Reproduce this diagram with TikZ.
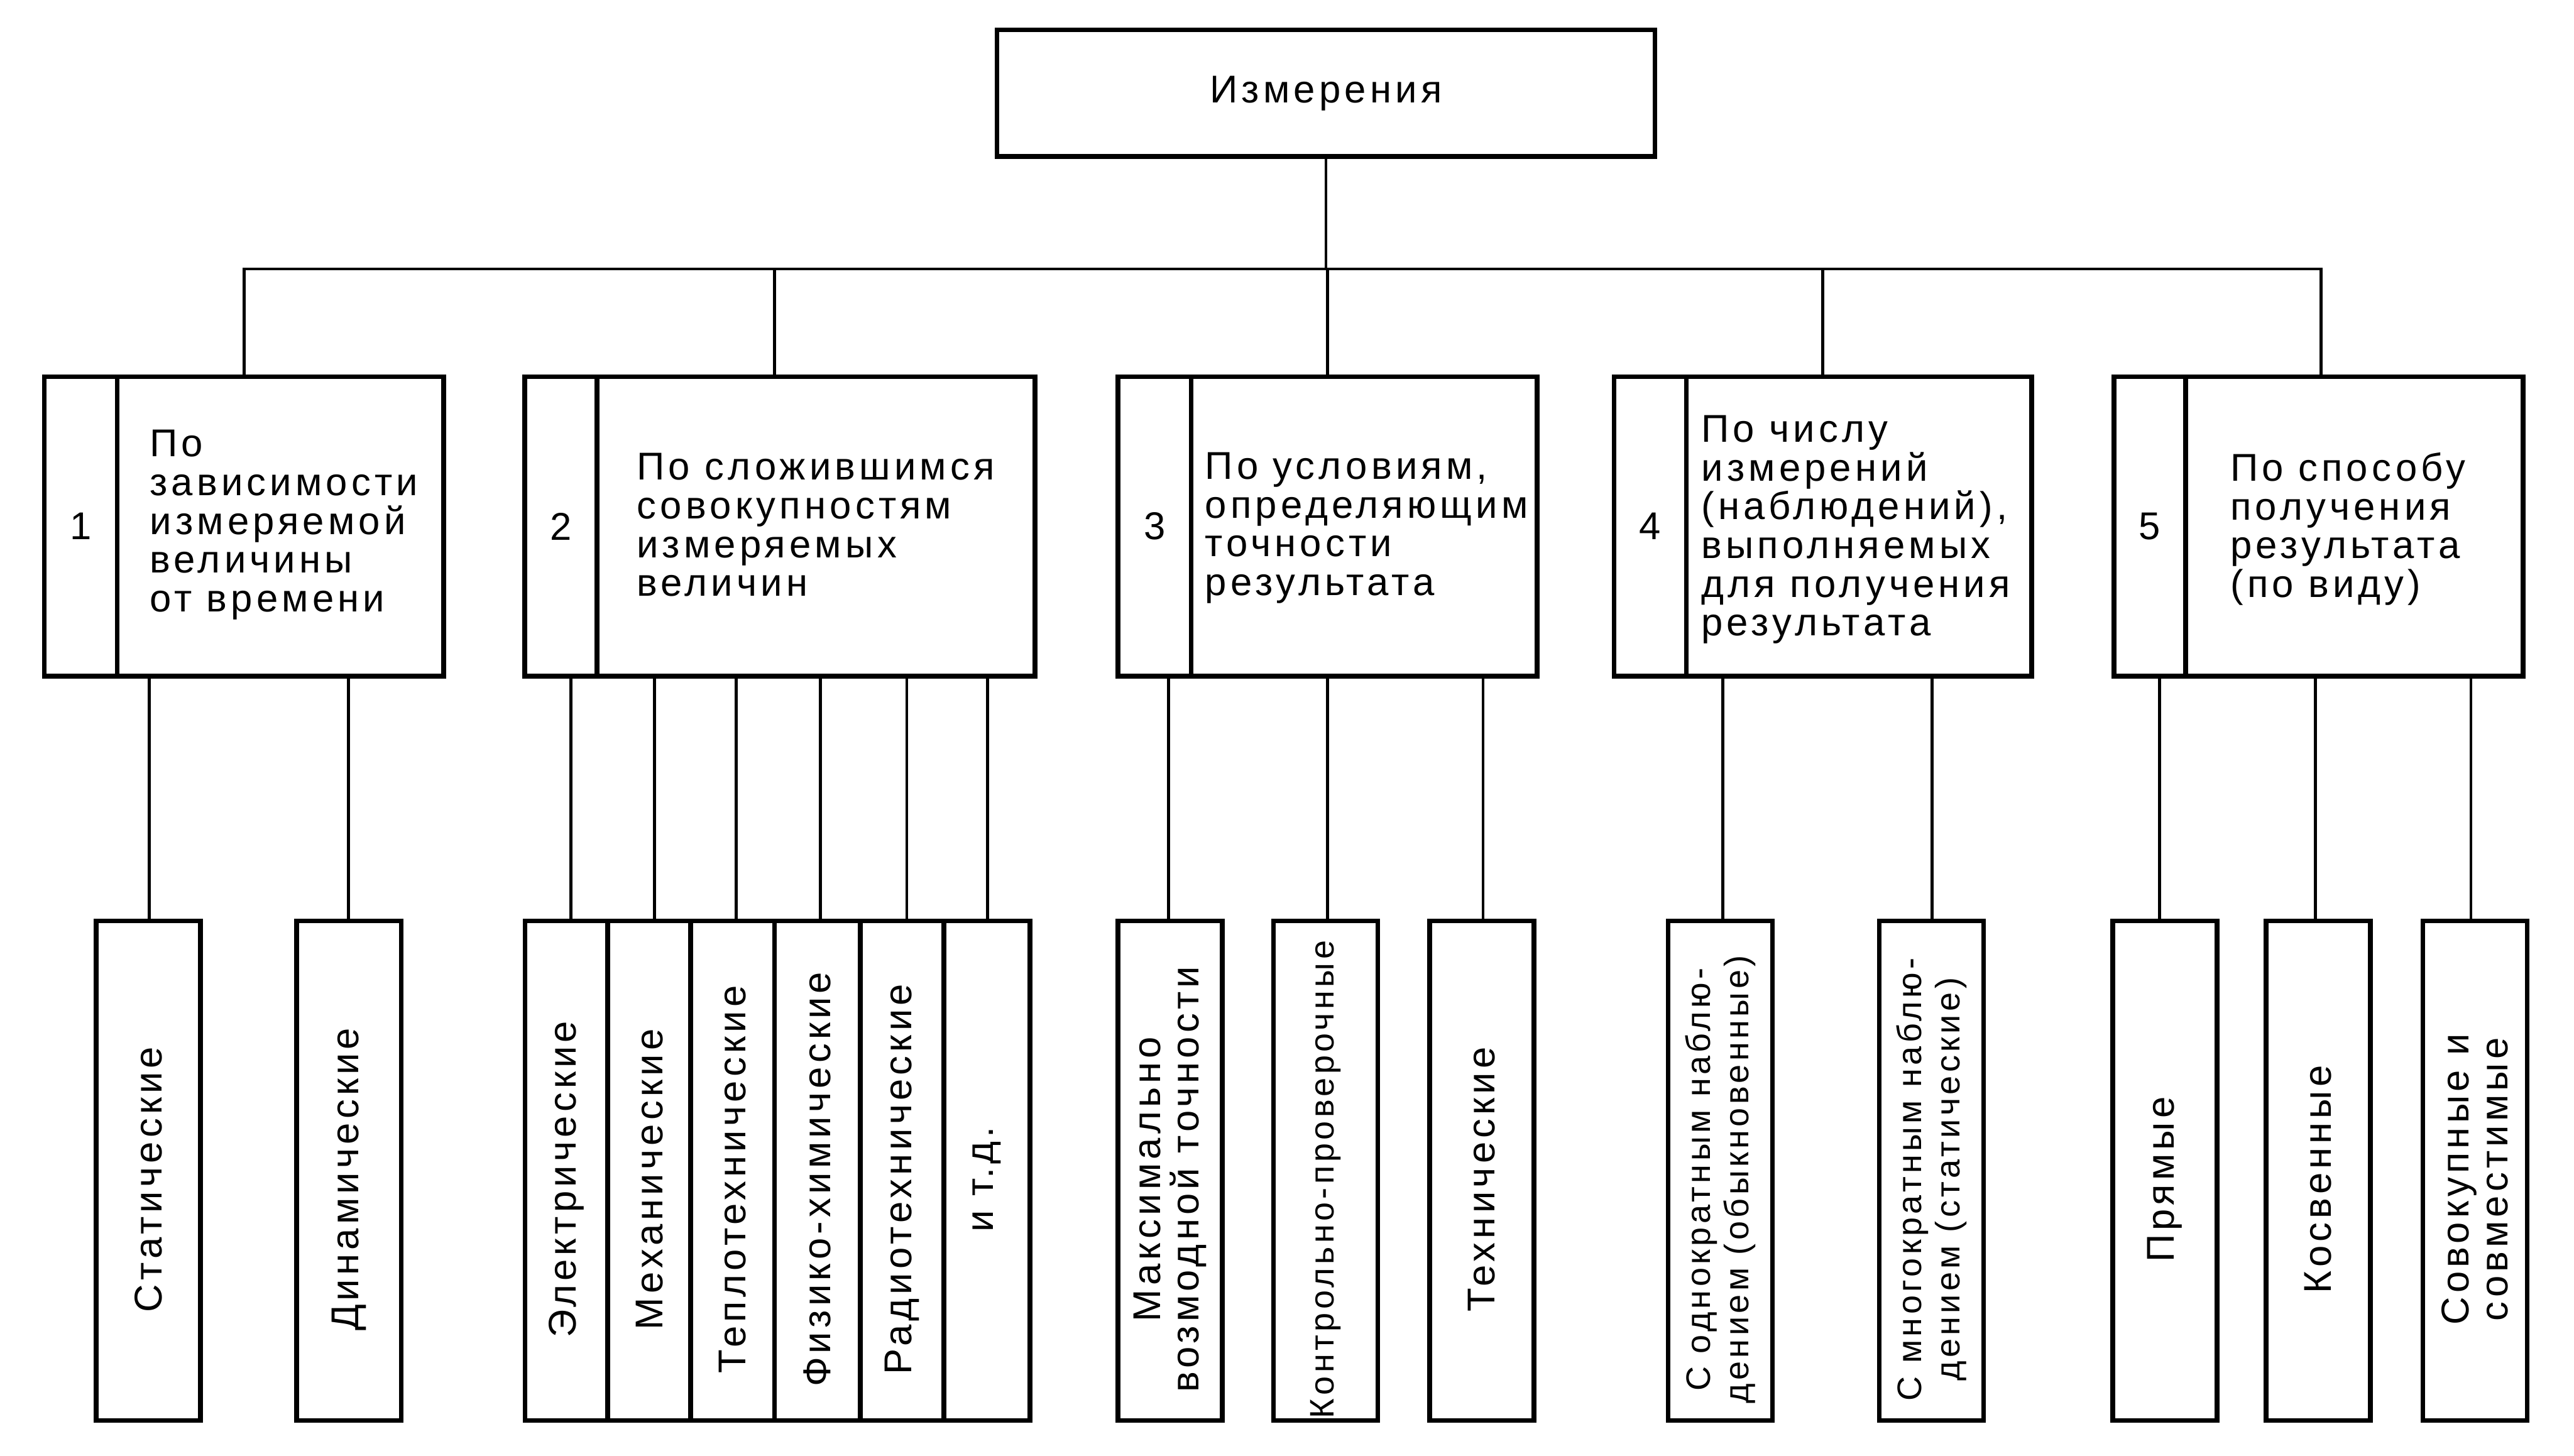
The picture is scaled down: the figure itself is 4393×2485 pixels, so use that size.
\documentclass[tikz,border=0pt]{standalone}
\usepackage{fontspec}
\setmainfont{Liberation Sans}[LetterSpace=10]

\newcommand{\txtfont}{\fontsize{18.8pt}{18.8pt}\selectfont\lineskiplimit=-50pt}
\newcommand{\smallfont}{\fontsize{16.5pt}{18.6pt}\selectfont\lineskiplimit=-50pt}

\tikzset{
  box/.style={draw, line width=2.3pt, inner sep=0pt, font=\txtfont},
  catbox/.style={box, minimum width=#1, minimum height=5.11cm},
  numcell/.style={box, minimum width=#1, minimum height=5.11cm, anchor=north west},
  leaf/.style={box, minimum width=1.78cm, minimum height=8.52cm},
  caption/.style={font=\txtfont, align=left, anchor=west, inner sep=0pt},
  vtext/.style={yshift=-0.15cm, rotate=90, align=center, font=\txtfont, inner sep=0pt},
  link/.style={line width=1.4pt},
}

\begin{document}
\begin{tikzpicture}[x=0.01cm, y=-0.01cm]
\useasboundingbox (0,0) rectangle (4393,2485);

% top
\node[box, minimum width=11.22cm, minimum height=2.16cm] (root) at (2263,159) {Измерения};

% classification
\node[catbox=6.81cm] (k1) at (416.5,898.5) {};
\node[numcell=1.24cm] (n1) at (k1.north west) {1};
\node[caption] (t1) at (255,896) {По\\зависимости\\измеряемой\\величины\\от времени};

\node[catbox=8.70cm] (k2) at (1331,898.5) {};
\node[numcell=1.23cm] (n2) at (k2.north west) {2};
\node[caption] (t2) at (1086,896) {По сложившимся\\совокупностям\\измеряемых\\величин};

\node[catbox=7.15cm] (k3) at (2265.5,898.5) {};
\node[numcell=1.25cm] (n3) at (k3.north west) {3};
\node[caption] (t3) at (2056,901) {По условиям,\\определяющим\\точности\\результата};

\node[catbox=7.12cm] (k4) at (3111,898.5) {};
\node[numcell=1.23cm] (n4) at (k4.north west) {4};
\node[caption] (t4) at (2903,904) {По числу\\измерений\\(наблюдений),\\выполняемых\\для получения\\результата};

\node[catbox=6.98cm] (k5) at (3957,898.5) {};
\node[numcell=1.22cm] (n5) at (k5.north west) {5};
\node[caption] (t5) at (3806,903) {По способу\\получения\\результата\\(по виду)};

% kinds
\node[leaf, label={[vtext]center:Статические}] (stat) at (253,1998) {};
\node[leaf, label={[vtext]center:Динамические}] (dyn) at (595.5,1998) {};

\node[leaf, minimum width=1.41cm, label={[vtext]center:Электрические}] (el) at (966.5,1998) {};
\node[leaf, minimum width=1.42cm, label={[vtext]center:Механические}] (mech) at (1108,1998) {};
\node[leaf, minimum width=1.43cm, label={[vtext]center:Теплотехнические}] (heat) at (1250.5,1998) {};
\node[leaf, minimum width=1.46cm, label={[vtext]center:Физико-химические}] (chem) at (1395,1998) {};
\node[leaf, minimum width=1.43cm, label={[vtext]center:Радиотехнические}] (radio) at (1539.5,1998) {};
\node[leaf, minimum width=1.47cm, label={[vtext]center:и т.д.}] (etc) at (1684.5,1998) {};

\node[leaf, label={[vtext]center:{Максимально\\возмодной точности}}] (maxp) at (1997,1998) {};
\node[leaf, label={[vtext, font=\smallfont]center:Контрольно-проверочные}] (ctrl) at (2262.5,1998) {};
\node[leaf, label={[vtext]center:Технические}] (tech) at (2529,1998) {};

\node[leaf, label={[vtext, font=\smallfont]center:{С однократным наблю-\\дением (обыкновенные)}}] (once) at (2936,1998) {};
\node[leaf, label={[vtext, font=\smallfont]center:{С многократным наблю-\\дением (статические)}}] (multi) at (3296.5,1998) {};

\node[leaf, label={[vtext]center:Прямые}] (direct) at (3694.5,1998) {};
\node[leaf, label={[vtext]center:Косвенные}] (indirect) at (3956.5,1998) {};
\node[leaf, label={[vtext]center:{Совокупные и\\совместимые}}] (joint) at (4224,1998) {};

% tree lines
\coordinate (bus) at (2263,459);
\draw[link] (root.south) -- (bus);
\draw[link] (k1.north) -- (k1.north |- bus) -- ([xshift=0.04cm]k5.north |- bus) -- ([xshift=0.04cm]k5.north);
\foreach \k/\d in {k2/-9,k3/0,k4/0}
  \draw[link] ([xshift=\d*0.01cm]\k.north) -- ([xshift=\d*0.01cm]\k.north |- bus);

% shift = offset of the stub from the box centre
\foreach \k/\s/\d in {k1/stat/2, k1/dyn/-1, k2/el/8, k2/mech/9, k2/heat/6, k2/chem/5, k2/radio/8, k2/etc/1,
                      k3/maxp/-3, k3/ctrl/3, k3/tech/2, k4/once/4, k4/multi/1,
                      k5/direct/-9, k5/indirect/-5, k5/joint/-7}
  \draw[link] ([xshift=\d*0.01cm]\s.north) -- ([xshift=\d*0.01cm]\s.north |- \k.south);
\end{tikzpicture}
\end{document}
